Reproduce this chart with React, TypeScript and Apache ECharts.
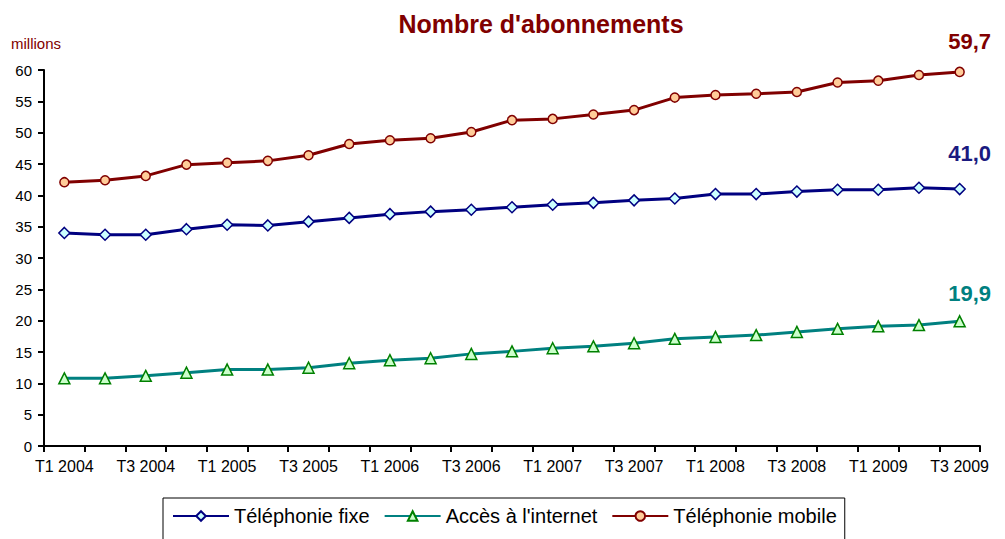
import React, { useEffect, useRef } from "react";
import * as echarts from "echarts";

const categories = [
  "T1 2004", "T2 2004", "T3 2004", "T4 2004",
  "T1 2005", "T2 2005", "T3 2005", "T4 2005",
  "T1 2006", "T2 2006", "T3 2006", "T4 2006",
  "T1 2007", "T2 2007", "T3 2007", "T4 2007",
  "T1 2008", "T2 2008", "T3 2008", "T4 2008",
  "T1 2009", "T2 2009", "T3 2009",
];

const fixe = [34.0, 33.7, 33.7, 34.6, 35.3, 35.2, 35.8, 36.4, 37.0, 37.4, 37.7, 38.1, 38.5, 38.8, 39.2, 39.5, 40.2, 40.2, 40.6, 40.9, 40.9, 41.2, 41.0];
const internet = [10.8, 10.8, 11.2, 11.7, 12.2, 12.2, 12.5, 13.2, 13.7, 14.0, 14.7, 15.1, 15.6, 15.9, 16.4, 17.1, 17.4, 17.7, 18.2, 18.7, 19.1, 19.3, 19.9];
const mobile = [42.1, 42.4, 43.1, 44.9, 45.2, 45.5, 46.4, 48.2, 48.8, 49.1, 50.1, 52.0, 52.2, 52.9, 53.6, 55.6, 56.0, 56.2, 56.5, 58.0, 58.3, 59.2, 59.7];

const seriesNames = ["Téléphonie fixe", "Accès à l'internet", "Téléphonie mobile"];
const yTicks = { min: 0, max: 60, interval: 5 };
const titleText = "Nombre d'abonnements";
const unitText = "millions";

const fmt = (v: number) => v.toFixed(1).replace(".", ",");

function withLastLabel(values: number[], color: string, distance: number) {
  return values.map((v, i) =>
    i === values.length - 1
      ? {
          value: v,
          label: {
            show: true,
            position: "top",
            distance,
            offset: [10, 0],
            formatter: fmt(v),
            color,
            fontSize: 22,
            fontWeight: "bold",
            fontFamily: "Liberation Sans, Arial, sans-serif",
          },
        }
      : v
  );
}

export default function App() {
  const ref = useRef<HTMLDivElement>(null);
  useEffect(() => {
    if (!ref.current) return;
    const chart = echarts.init(ref.current, undefined, { renderer: "svg" });
    const font = "Liberation Sans, Arial, sans-serif";
    chart.setOption({
      animation: false,
      backgroundColor: "#ffffff",
      textStyle: { fontFamily: font },
      title: {
        text: titleText,
        left: 536,
        top: 6,
        textAlign: "center",
        textStyle: { color: "#800000", fontSize: 25, fontWeight: "bold", fontFamily: font },
      },
      graphic: [
        {
          type: "text",
          left: 11,
          top: 36,
          style: { text: unitText, fill: "#800000", fontSize: 15, fontFamily: font },
        },
      ],
      legend: {
        left: 163,
        top: 498,
        padding: [8, 8, 30, 9],
        borderColor: "#000",
        borderWidth: 1,
        itemWidth: 56,
        itemHeight: 12,
        itemGap: 14,
        textStyle: { fontSize: 20, color: "#000", fontFamily: font },
        data: seriesNames,
      },
      grid: { left: 44, right: 25, top: 70, bottom: 93, containLabel: false },
      xAxis: {
        type: "category",
        data: categories,
        boundaryGap: true,
        axisLine: { lineStyle: { color: "#000", width: 2 } },
        axisTick: { show: true, interval: 0, length: 6, lineStyle: { color: "#000", width: 2 } },
        axisLabel: { interval: 1, color: "#000", fontSize: 16, margin: 12, fontFamily: font },
        splitLine: { show: false },
      },
      yAxis: {
        type: "value",
        min: yTicks.min,
        max: yTicks.max,
        interval: yTicks.interval,
        axisLine: { show: true, lineStyle: { color: "#000", width: 2 } },
        axisTick: { show: true, length: 6, lineStyle: { color: "#000", width: 2 } },
        axisLabel: { color: "#000", fontSize: 15, margin: 12, fontFamily: font },
        splitLine: { show: false },
      },
      series: [
        {
          name: seriesNames[0],
          type: "line",
          data: withLastLabel(fixe, "#1a1a80", 18),
          symbol: "diamond",
          symbolSize: 11,
          lineStyle: { color: "#000080", width: 3 },
          itemStyle: { color: "#ccffff", borderColor: "#000080", borderWidth: 1.5 },
          z: 3,
        },
        {
          name: seriesNames[1],
          type: "line",
          data: withLastLabel(internet, "#008080", 11),
          symbol: "triangle",
          symbolSize: 11,
          lineStyle: { color: "#008080", width: 3 },
          itemStyle: { color: "#ccffcc", borderColor: "#008000", borderWidth: 1.5 },
          z: 3,
        },
        {
          name: seriesNames[2],
          type: "line",
          data: withLastLabel(mobile, "#800000", 14),
          symbol: "circle",
          symbolSize: 9,
          lineStyle: { color: "#800000", width: 3 },
          itemStyle: { color: "#ffcc99", borderColor: "#800000", borderWidth: 1.5 },
          z: 3,
        },
      ],
    });
    return () => chart.dispose();
  }, []);
  return (
    <div
      ref={ref}
      style={{ position: "fixed", left: 0, top: 0, width: 1005, height: 539, background: "#fff" }}
    />
  );
}
